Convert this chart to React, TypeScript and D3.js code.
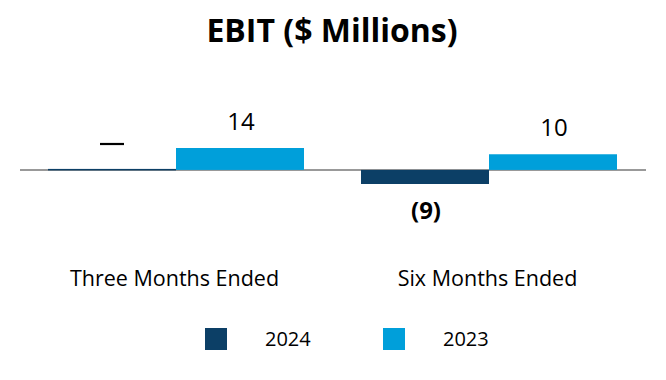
import React from "react";
import * as d3 from "d3";

const categories = ["Three Months Ended", "Six Months Ended"];
const seriesNames = ["2024", "2023"];
const values2024 = [0, -9];
const values2023 = [14, 10];
const labels2024 = ["—", "(9)"];
const labels2023 = ["14", "10"];
const colors = ["#0c3f66", "#009fda"];

const W = 666;
const H = 380;
const FONT = "'Open Sans', 'Noto Sans', sans-serif";

export default function App() {
  const x0 = d3.scaleBand<string>().domain(categories).range([20, 646]).paddingInner(0).paddingOuter(0);
  const x1 = d3.scaleBand<string>().domain(seriesNames).range([28, 284]).paddingInner(0).paddingOuter(0);
  const y = d3.scaleLinear().domain([-9, 14]).range([184, 148]);
  const series = [values2024, values2023];
  const labels = [labels2024, labels2023];

  return (
    <svg width={W} height={H} style={{ position: "absolute", left: 0, top: 0 }}>
      <rect width={W} height={H} fill="#fff" />
      <text x={332} y={42} textAnchor="middle" fontFamily={FONT} fontWeight={700} fontSize={32} fill="#000">
        EBIT ($ Millions)
      </text>
      <line x1={20} x2={646} y1={y(0)} y2={y(0)} stroke="#777" strokeWidth={1.5} />
      {categories.map((c, ci) => (
        <g key={c}>
          {seriesNames.map((s, si) => {
            const v = series[si][ci];
            const bx = (x0(c) ?? 0) + (x1(s) ?? 0);
            const top = v === 0 ? y(0) - 1 : Math.min(y(v), y(0));
            const h = v === 0 ? 1.5 : Math.abs(y(v) - y(0));
            const cx = bx + x1.bandwidth() / 2;
            const neg = v < 0;
            const isDash = labels[si][ci] === "—";
            return (
              <g key={s}>
                <rect x={bx} y={top} width={x1.bandwidth()} height={h} fill={colors[si]} />
                {isDash ? (
                  <line x1={cx - 12} x2={cx + 12} y1={144} y2={144} stroke="#000" strokeWidth={2.2} />
                ) : (
                  <text
                    x={cx + 1}
                    y={neg ? y(v) + 35 : y(v) - 18}
                    textAnchor="middle"
                    fontFamily={FONT}
                    fontSize={24}
                    fontWeight={neg ? 700 : 400}
                    fill="#000"
                  >
                    {labels[si][ci]}
                  </text>
                )}
              </g>
            );
          })}
          <text
            x={(x0(c) ?? 0) + x0.bandwidth() / 2 - 2}
            y={286}
            textAnchor="middle"
            fontFamily={FONT}
            fontSize={21.5}
            fill="#000"
          >
            {c}
          </text>
        </g>
      ))}
      {seriesNames.map((s, si) => (
        <g key={s} transform={`translate(${205 + si * 178},328)`}>
          <rect width={22} height={22} fill={colors[si]} />
          <text x={60} y={18} fontFamily={FONT} fontSize={20} fill="#000">
            {s}
          </text>
        </g>
      ))}
    </svg>
  );
}
